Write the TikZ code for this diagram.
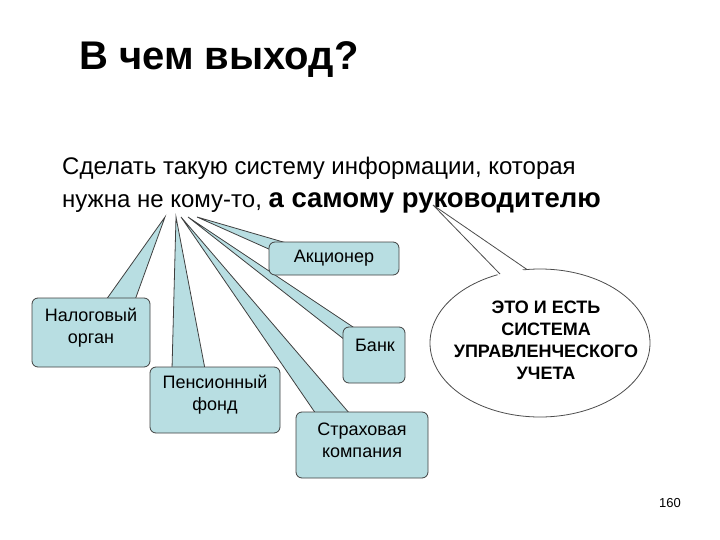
\documentclass[tikz,border=0pt]{standalone}
\usepackage{fontspec}
\setmainfont{Liberation Sans}
\begin{document}
\begin{tikzpicture}[x=1pt,y=-1pt,
  call/.style={fill=calf,draw=black!75,line width=0.8pt},
  lbl/.style={align=center,font=\fontsize{18}{22}\selectfont}]
\definecolor{calf}{RGB}{184,222,226}
\useasboundingbox (0,0) rectangle (720,540);
\node[anchor=west,inner sep=0pt,font=\fontsize{40}{44}\selectfont\bfseries] (title) at (79,60) {В чем выход?};
\node[anchor=west,inner sep=0pt,font=\fontsize{24}{28}\selectfont] (l1) at (62,168) {Сделать такую систему информации, которая};
\node[anchor=west,inner sep=0pt,font=\fontsize{24}{28}\selectfont] (l2) at (62,203) {нужна не кому-то, {\fontsize{27.5}{30}\selectfont\bfseries а самому руководителю}};
% tips
\coordinate (tA) at (197,217);
\coordinate (tN) at (165,217);
\coordinate (tP) at (176,217);
\coordinate (tB) at (188,217);
\coordinate (tS) at (181,217);
\coordinate (tE) at (433,205);
% wedges
\draw[call] (tN) -- (106,300) -- (135,300) -- cycle;
\draw[call] (tP) -- (172,369) -- (205,369) -- cycle;
\draw[call] (tS) -- (316,414) -- (350,414) -- cycle;
\draw[call] (tB) -- (345,340) -- (356,329) -- cycle;
\draw[call] (tA) -- (271,250) -- (290,244) -- cycle;
% boxes
\draw[call,rounded corners=6pt] (269,242) rectangle (399,275);
\node[lbl] (akc) at (334,258) {Акционер};
\draw[call,rounded corners=6pt] (32,298) rectangle (150,367);
\node[lbl] (nal) at (91,328) {Налоговый\\орган};
\draw[call,rounded corners=6pt] (150,367) rectangle (280,433);
\node[lbl] (pen) at (215,395) {Пенсионный\\фонд};
\draw[call,rounded corners=6pt] (343,327) rectangle (405,383);
\node[lbl] (bank) at (375,345) {Банк};
\draw[call,rounded corners=6pt] (296,412) rectangle (428,478);
\node[lbl] (str) at (362,440) {Страховая\\компания};
\fill[white] (540,343) ellipse (110 and 74);
\draw[draw=black!70,line width=0.8pt] (540,343) ellipse (110 and 74);
\fill[white] (tE) -- (500,277) -- (527,273) -- cycle;
\draw[draw=black!70,line width=0.8pt] (500,274) -- (tE) -- (527,269.5);
\node[align=center,font=\fontsize{18}{22}\selectfont\bfseries] (sys) at (546,340) {ЭТО И ЕСТЬ\\СИСТЕМА\\УПРАВЛЕНЧЕСКОГО\\УЧЕТА};
\node[font=\fontsize{13}{15}\selectfont] (pg) at (670,503) {160};
\end{tikzpicture}
\end{document}
